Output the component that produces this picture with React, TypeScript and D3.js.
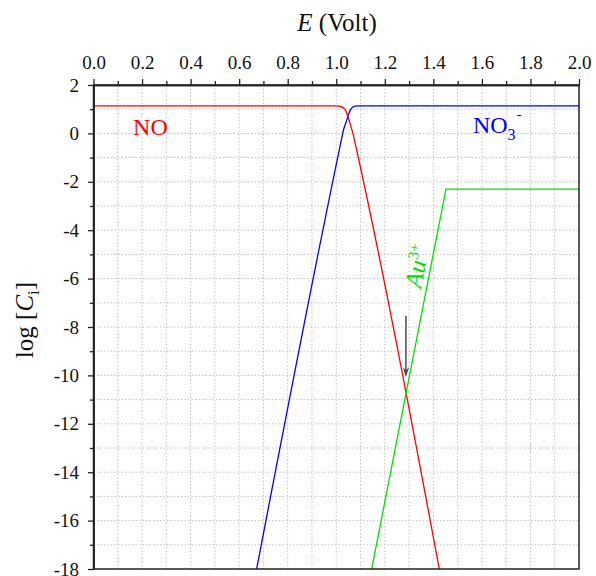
import React, { useEffect, useRef } from "react";
import * as d3 from "d3";

const width = 596;
const height = 576;
const margin = { top: 85, right: 17, bottom: 7, left: 93.5 };

// axis ticks
const xMajorTicks = [0, 0.2, 0.4, 0.6, 0.8, 1.0, 1.2, 1.4, 1.6, 1.8, 2.0];
const xMinorTicks = [0.1, 0.3, 0.5, 0.7, 0.9, 1.1, 1.3, 1.5, 1.7, 1.9];
const yMajorTicks = [2, 0, -2, -4, -6, -8, -10, -12, -14, -16, -18];
const yMinorTicks = [1, -1, -3, -5, -7, -9, -11, -13, -15, -17];

// curves: [E (V), log C]
const noCurve: [number, number][] = [
  [0, 1.14], [1.0, 1.14], [1.02, 1.11], [1.035, 1.0], [1.048, 0.7],
  [1.06, 0.3], [1.07, -0.05], [1.08, -0.5], [1.4245, -18],
];
const no3Curve: [number, number][] = [
  [0.672, -18], [1.01, -0.8], [1.02, -0.32], [1.03, 0.15], [1.04, 0.45],
  [1.048, 0.7], [1.06, 1.0], [1.07, 1.1], [1.08, 1.13], [1.1, 1.14], [2.0, 1.14],
];
const auCurve: [number, number][] = [
  [1.146, -18], [1.452, -2.3], [2.0, -2.3],
];

// arrow pointing at the NO / Au3+ crossing
const arrowFrom: [number, number] = [1.287, -7.55];
const arrowTo: [number, number] = [1.287, -10.07];

// label anchors (data coords)
const noLabelAt: [number, number] = [0.163, -0.066];
const no3LabelAt: [number, number] = [1.563, 0.017];
const auLabelAt: [number, number] = [1.349, -6.43];

const FONT = "'Liberation Serif', 'Times New Roman', serif";

const App = () => {
  const ref = useRef<SVGSVGElement>(null);

  useEffect(() => {
    const svg = d3.select(ref.current);
    svg.selectAll("*").remove();

    const x = d3
      .scaleLinear()
      .domain([0, 2])
      .range([margin.left, width - margin.right]);
    const y = d3
      .scaleLinear()
      .domain([-18, 2])
      .range([height - margin.bottom, margin.top]);

    const [x0, x1] = x.range();
    const [y0, y1] = y.range();

    svg
      .append("defs")
      .append("clipPath")
      .attr("id", "plot-clip")
      .append("rect")
      .attr("x", x0)
      .attr("y", y1)
      .attr("width", x1 - x0)
      .attr("height", y0 - y1);

    // dotted grid
    const grid = svg.append("g").attr("stroke", "#c4c4c4").attr("stroke-dasharray", "1.5,2");
    grid
      .selectAll("line.vx")
      .data([...xMajorTicks, ...xMinorTicks].filter((d) => d > 0 && d < 2))
      .join("line")
      .attr("class", "vx")
      .attr("x1", (d) => x(d))
      .attr("x2", (d) => x(d))
      .attr("y1", y1)
      .attr("y2", y0);
    grid
      .selectAll("line.hy")
      .data([...yMajorTicks, ...yMinorTicks].filter((d) => d > -18 && d < 2))
      .join("line")
      .attr("class", "hy")
      .attr("x1", x0)
      .attr("x2", x1)
      .attr("y1", (d) => y(d))
      .attr("y2", (d) => y(d));

    // curves
    const line = d3
      .line<[number, number]>()
      .x((d) => x(d[0]))
      .y((d) => y(d[1]));
    const smooth = d3
      .line<[number, number]>()
      .x((d) => x(d[0]))
      .y((d) => y(d[1]))
      .curve(d3.curveMonotoneX);
    const curves = svg.append("g").attr("clip-path", "url(#plot-clip)").attr("fill", "none").attr("stroke-width", 1.3);
    curves.append("path").attr("d", smooth(no3Curve)).attr("stroke", "#0000ff");
    curves.append("path").attr("d", smooth(noCurve)).attr("stroke", "#ff0000");
    curves.append("path").attr("d", line(auCurve)).attr("stroke", "#00e000");

    // arrow
    const ax = x(arrowFrom[0]);
    const ayTop = y(arrowFrom[1]);
    const ayTip = y(arrowTo[1]);
    svg
      .append("line")
      .attr("x1", ax)
      .attr("x2", ax)
      .attr("y1", ayTop)
      .attr("y2", ayTip - 4)
      .attr("stroke", "#555")
      .attr("stroke-width", 1.6);
    svg
      .append("path")
      .attr("d", `M${ax},${ayTip} L${ax - 3.2},${ayTip - 10} L${ax},${ayTip - 6.5} L${ax + 3.2},${ayTip - 10} Z`)
      .attr("fill", "#444");

    // frame
    svg
      .append("rect")
      .attr("x", x0)
      .attr("y", y1)
      .attr("width", x1 - x0)
      .attr("height", y0 - y1)
      .attr("fill", "none")
      .attr("stroke", "#222")
      .attr("stroke-width", 1.5);

    // top axis (major + minor in their own groups)
    svg
      .append("g")
      .attr("transform", `translate(0,${y1})`)
      .call(d3.axisTop(x).tickValues(xMinorTicks).tickFormat(() => "").tickSize(4).tickSizeOuter(0));
    svg
      .append("g")
      .attr("transform", `translate(0,${y1})`)
      .call(
        d3.axisTop(x).tickValues(xMajorTicks).tickFormat(d3.format(".1f")).tickSize(6).tickSizeOuter(0).tickPadding(10)
      );
    // left axis
    svg
      .append("g")
      .attr("transform", `translate(${x0},0)`)
      .call(d3.axisLeft(y).tickValues(yMinorTicks).tickFormat(() => "").tickSize(3.5).tickSizeOuter(0));
    svg
      .append("g")
      .attr("transform", `translate(${x0},0)`)
      .call(
        d3.axisLeft(y).tickValues(yMajorTicks).tickFormat((d) => String(d)).tickSize(5.5).tickSizeOuter(0).tickPadding(9)
      );

    svg.selectAll(".domain").attr("stroke", "#222").attr("stroke-width", 1.5);
    svg.selectAll(".tick line").attr("stroke", "#222").attr("stroke-width", 1.3);
    svg
      .selectAll(".tick text")
      .attr("font-family", FONT)
      .attr("font-size", 19)
      .attr("fill", "#111");

    // axis titles
    const title = svg
      .append("text")
      .attr("x", 337)
      .attr("y", 31)
      .attr("text-anchor", "middle")
      .attr("font-family", FONT)
      .attr("font-size", 25)
      .attr("fill", "#111");
    title.append("tspan").attr("font-style", "italic").text("E");
    title.append("tspan").text(" (Volt)");

    const ylab = svg
      .append("text")
      .attr("transform", "translate(33,320) rotate(-90)")
      .attr("text-anchor", "middle")
      .attr("font-family", FONT)
      .attr("font-size", 25)
      .attr("fill", "#111");
    ylab.append("tspan").text("log [");
    ylab.append("tspan").attr("font-style", "italic").text("C");
    ylab.append("tspan").attr("font-size", 17).attr("dy", 6).text("i");
    ylab.append("tspan").attr("dy", -6).text("]");

    // curve labels
    svg
      .append("text")
      .attr("x", x(noLabelAt[0]))
      .attr("y", y(noLabelAt[1]))
      .attr("font-family", FONT)
      .attr("font-size", 24)
      .attr("fill", "#ff0000")
      .text("NO");

    const no3 = svg
      .append("text")
      .attr("x", x(no3LabelAt[0]))
      .attr("y", y(no3LabelAt[1]))
      .attr("font-family", FONT)
      .attr("font-size", 24)
      .attr("fill", "#0000ff");
    no3.append("tspan").text("NO");
    no3.append("tspan").attr("font-size", 16).attr("dy", 7).text("3");
    no3.append("tspan").attr("font-size", 15).attr("dx", 1).attr("dy", -21).text("-");

    const au = svg
      .append("text")
      .attr("transform", `translate(${x(auLabelAt[0])},${y(auLabelAt[1])}) rotate(-79)`)
      .attr("font-family", FONT)
      .attr("font-size", 25)
      .attr("fill", "#00e000");
    au.append("tspan").attr("font-style", "italic").text("Au");
    au.append("tspan").attr("font-size", 15).attr("dy", -9).text("3+");
  }, []);

  return (
    <svg
      ref={ref}
      width={width}
      height={height}
      style={{ position: "absolute", left: 0, top: 0, background: "#fff" }}
    />
  );
};

export default App;
